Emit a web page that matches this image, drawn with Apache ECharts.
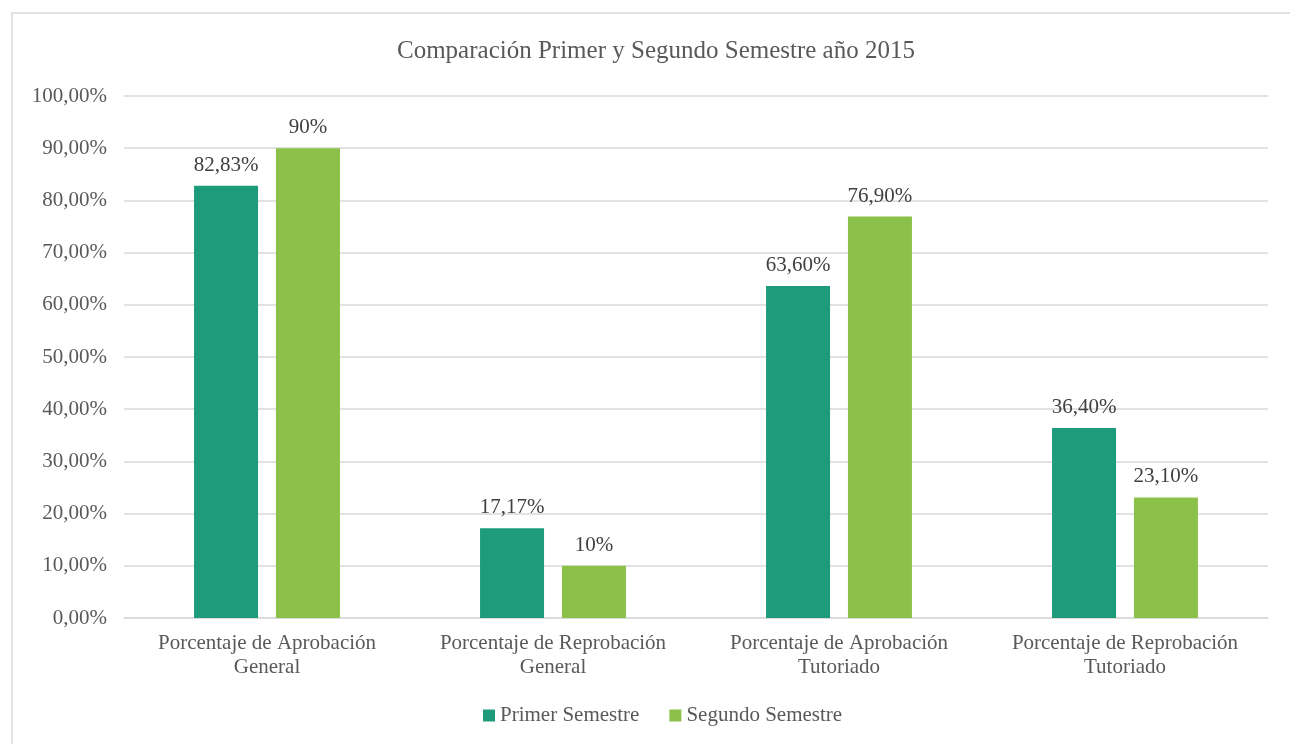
<!DOCTYPE html>
<html>
<head>
<meta charset="utf-8">
<script src="https://cdn.jsdelivr.net/npm/echarts@6/dist/echarts.min.js"></script>
<style>
  html, body { margin: 0; padding: 0; background: #fff; }
  #chart { width: 1290px; height: 744px; }
</style>
</head>
<body>
<div id="chart"></div>
<script>
// Datos del gráfico
const categorias = [
    'Porcentaje de Aprobación\nGeneral',
    'Porcentaje de Reprobación\nGeneral',
    'Porcentaje de Aprobación\nTutoriado',
    'Porcentaje de Reprobación\nTutoriado'
];
const primerSemestre = [82.83, 17.17, 63.60, 36.40];
const segundoSemestre = [90, 10, 76.90, 23.10];
const etiquetasPrimer = ['82,83%', '17,17%', '63,60%', '36,40%'];
const etiquetasSegundo = ['90%', '10%', '76,90%', '23,10%'];

const chartDom = document.getElementById('chart');
const myChart = echarts.init(chartDom);

const fuente = 'Liberation Serif';
const gris = '#595959';

const option = {
    animation: false,
    textStyle: { fontFamily: fuente },
    graphic: [{
        type: 'rect',
        shape: { x: 12, y: 13, width: 1300, height: 760 },
        style: { fill: 'none', stroke: '#d9d9d9', lineWidth: 1.5 },
        silent: true
    }],
    title: {
        text: 'Comparación Primer y Segundo Semestre año 2015',
        left: 392,
        top: 34,
        textStyle: { fontFamily: fuente, fontSize: 25, fontWeight: 'normal', color: gris }
    },
    legend: {
        bottom: 13,
        left: 478,
        itemWidth: 12,
        itemHeight: 12,
        itemGap: 30,
        icon: 'rect',
        textStyle: { fontFamily: fuente, fontSize: 21, color: gris }
    },
    grid: {
        left: 124,
        right: 22,
        top: 96,
        bottom: 126
    },
    xAxis: {
        type: 'category',
        data: categorias,
        axisTick: { show: false },
        axisLine: { lineStyle: { color: '#d9d9d9', width: 1.5 } },
        axisLabel: {
            interval: 0,
            fontFamily: fuente,
            fontSize: 21,
            color: gris,
            margin: 13,
            lineHeight: 24
        }
    },
    yAxis: {
        type: 'value',
        min: 0,
        max: 100,
        interval: 10,
        axisLine: { show: false },
        axisTick: { show: false },
        splitLine: { lineStyle: { color: '#d9d9d9', width: 1.5 } },
        axisLabel: {
            fontFamily: fuente,
            fontSize: 21,
            color: gris,
            margin: 17,
            formatter: function (v) { return v.toFixed(2).replace('.', ',') + '%'; }
        }
    },
    series: [
        {
            name: 'Primer Semestre',
            type: 'bar',
            data: primerSemestre,
            barWidth: 64,
            barGap: '28%',
            itemStyle: { color: '#1e9b7b' },
            label: {
                show: true,
                position: 'top',
                distance: 10,
                fontFamily: fuente,
                fontSize: 21,
                color: '#404040',
                formatter: function (p) { return etiquetasPrimer[p.dataIndex]; }
            }
        },
        {
            name: 'Segundo Semestre',
            type: 'bar',
            data: segundoSemestre,
            barWidth: 64,
            itemStyle: { color: '#8bc148' },
            label: {
                show: true,
                position: 'top',
                distance: 10,
                fontFamily: fuente,
                fontSize: 21,
                color: '#404040',
                formatter: function (p) { return etiquetasSegundo[p.dataIndex]; }
            }
        }
    ]
};
myChart.setOption(option);
</script>
</body>
</html>
